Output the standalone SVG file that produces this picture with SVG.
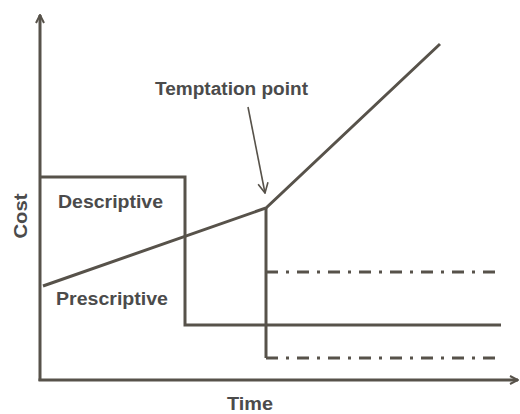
<svg xmlns="http://www.w3.org/2000/svg" width="520" height="414" viewBox="0 0 520 414">
<style>
.ln{fill:none;stroke:#57524a;stroke-width:3;stroke-linejoin:miter}
.dd{fill:none;stroke:#57524a;stroke-width:3;stroke-dasharray:12 8 3 8}
.t{font-family:"Liberation Sans",Arial,sans-serif;font-weight:bold;font-size:18px;fill:#4b4b4b}
</style>
<defs>
<marker id="ah" viewBox="0 0 10 10" refX="9" refY="5" markerWidth="10" markerHeight="10" markerUnits="userSpaceOnUse" orient="auto">
<path d="M1,1 L9,5 L1,9" fill="none" stroke="#57524a" stroke-width="2"/>
</marker>
<marker id="ah2" viewBox="0 0 12 12" refX="11" refY="6" markerWidth="12" markerHeight="12" markerUnits="userSpaceOnUse" orient="auto">
<path d="M1,1 L11,6 L1,11" fill="none" stroke="#57524a" stroke-width="1.6"/>
</marker>
</defs>
<g id="axes">
<path class="ln" d="M40,381 V15" marker-end="url(#ah)"/>
<path class="ln" d="M38.5,380 H518" marker-end="url(#ah)"/>
</g>
<g id="connectors">
<path class="ln" d="M40,177 H185 V325 H501"/>
<path class="ln" d="M43,286 L266,208 L440,44"/>
<path class="ln" d="M266,208 V358"/>
<path class="dd" d="M266,272 H497"/>
<path class="dd" d="M266,358 H497"/>
<path fill="none" stroke="#57524a" stroke-width="1.6" d="M248,107 L265,193" marker-end="url(#ah2)"/>
</g>
<g id="labels">
<text class="t" x="155" y="95" textLength="153" lengthAdjust="spacingAndGlyphs">Temptation point</text>
<text class="t" x="58" y="208" textLength="105" lengthAdjust="spacingAndGlyphs">Descriptive</text>
<text class="t" x="56" y="305" textLength="112" lengthAdjust="spacingAndGlyphs">Prescriptive</text>
<text class="t" x="250" y="410" text-anchor="middle" textLength="46" lengthAdjust="spacingAndGlyphs">Time</text>
<text class="t" transform="translate(27,216) rotate(-90)" text-anchor="middle" textLength="45" lengthAdjust="spacingAndGlyphs">Cost</text>
</g>
</svg>
